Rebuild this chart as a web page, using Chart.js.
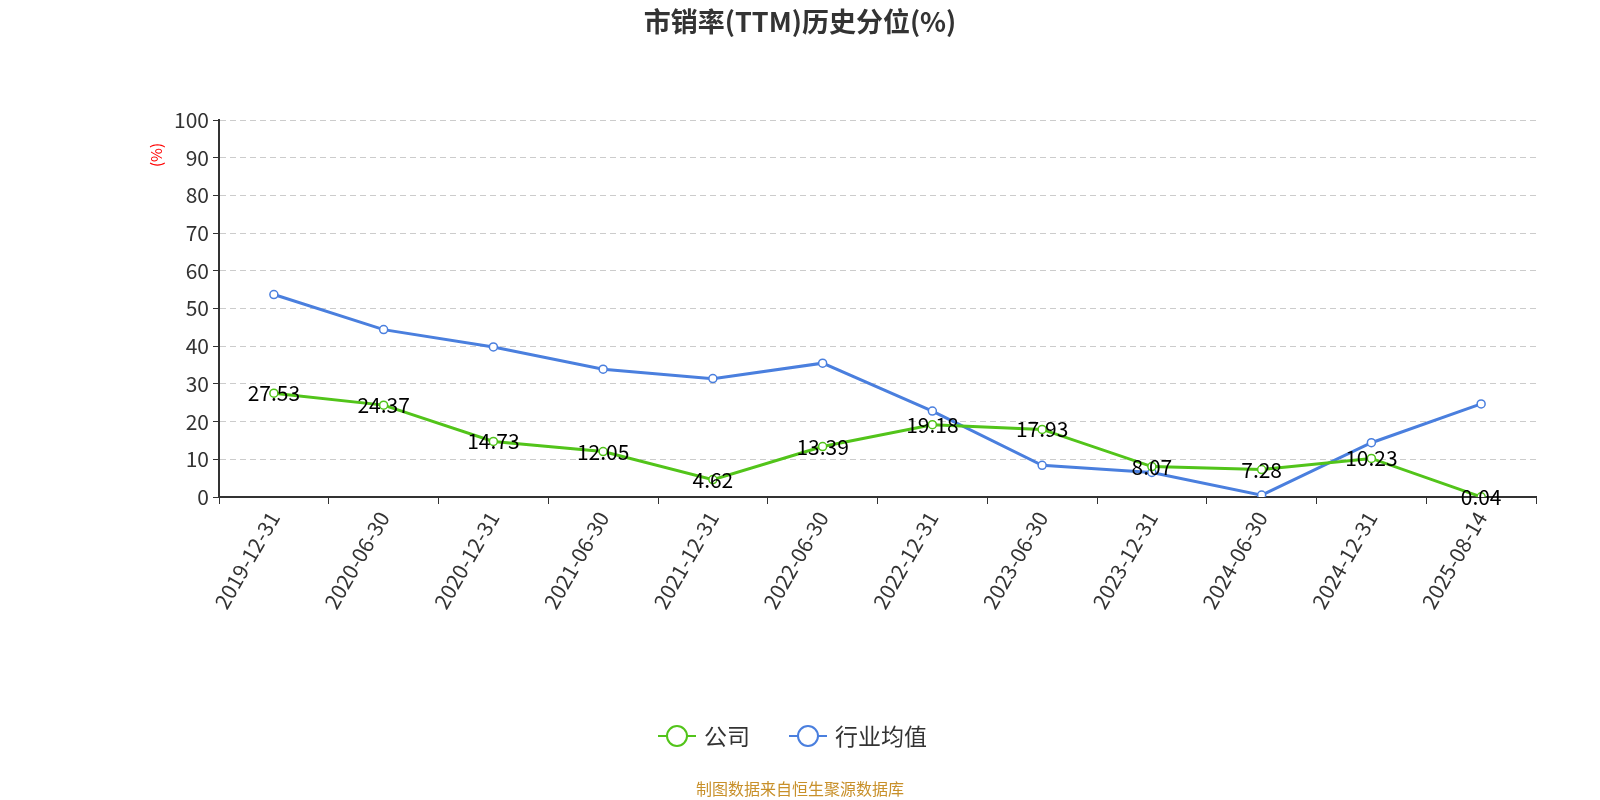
<!DOCTYPE html>
<html><head><meta charset="utf-8">
<script src="https://cdn.jsdelivr.net/npm/chart.js@4"></script>
<style>html,body{margin:0;padding:0;background:#fff}#w{width:1600px;height:800px}</style>
</head><body><div id="w"><canvas id="c"></canvas></div>
<script>
const categories=["2019-12-31","2020-06-30","2020-12-31","2021-06-30","2021-12-31","2022-06-30","2022-12-31","2023-06-30","2023-12-31","2024-06-30","2024-12-31","2025-08-14"];
const companyValues=[27.53,24.37,14.73,12.05,4.62,13.39,19.18,17.93,8.07,7.28,10.23,0.04];
const industryValues=[53.7,44.4,39.8,33.9,31.4,35.5,22.8,8.4,6.5,0.5,14.4,24.7];
const yTicks=[0,10,20,30,40,50,60,70,80,90,100];
const FONT='"Noto Sans CJK SC","Noto Sans",sans-serif';
const deco={id:'deco',afterDatasetsDraw(ch){
  const c=ch.ctx;c.save();
  c.fillStyle='#333';c.font='bold 27px '+FONT;c.textAlign='center';c.textBaseline='middle';
  c.fillText('市销率(TTM)历史分位(%)',800,22);
  c.save();c.translate(156,155);c.rotate(-Math.PI/2);c.fillStyle='red';c.font='15px '+FONT;c.fillText('(%)',0,0);c.restore();
  const m=ch.getDatasetMeta(0);c.fillStyle='#000';c.font='21px '+FONT;
  m.data.forEach((p,i)=>c.fillText(companyValues[i].toFixed(2),p.x,p.y));
  const items=[['公司','#52c41a',658],['行业均值','#4a7fde',789]];
  c.font='23px '+FONT;c.textAlign='left';
  items.forEach(([t,col,x])=>{c.strokeStyle=col;c.lineWidth=2;c.beginPath();c.moveTo(x,736);c.lineTo(x+38,736);c.stroke();
    c.beginPath();c.arc(x+19,736,10,0,Math.PI*2);c.fillStyle='#fff';c.fill();c.stroke();
    c.fillStyle='#333';c.fillText(t,x+46,736);});
  c.textAlign='center';c.fillStyle='#c8902a';c.font='16px '+FONT;c.fillText('制图数据来自恒生聚源数据库',800,789);
  c.restore();}};
new Chart(document.getElementById('c'),{type:'line',
 data:{labels:categories,datasets:[
  {label:'公司',data:companyValues,borderColor:'#52c41a',backgroundColor:'#fff',borderWidth:3,pointRadius:4,pointBorderWidth:1.5,tension:0},
  {label:'行业均值',data:industryValues,borderColor:'#4a7fde',backgroundColor:'#fff',borderWidth:3,pointRadius:4,pointBorderWidth:1.5,tension:0}]},
 options:{responsive:true,maintainAspectRatio:false,animation:false,
  layout:{padding:{top:120,right:64,left:149,bottom:0}},
  plugins:{legend:{display:false},tooltip:{enabled:false}},
  scales:{
   x:{offset:true,afterFit(s){s.height=303;},grid:{display:true,drawOnChartArea:false,offset:true,color:'#333',tickLength:7},border:{color:'#333',width:2},
      ticks:{color:'#333',font:{size:21,family:FONT},maxRotation:60,minRotation:60,autoSkip:false}},
   y:{min:0,max:100,afterFit(s){s.width=70;},afterBuildTicks(s){s.ticks=yTicks.map(v=>({value:v}));},
      grid:{color:'#ccc',tickColor:'#333',tickLength:6,lineWidth:1},border:{color:'#333',width:2,dash:[6,4]},
      ticks:{color:'#333',font:{size:21,family:FONT},padding:4}}
  }},
 plugins:[deco]});
</script></body></html>
